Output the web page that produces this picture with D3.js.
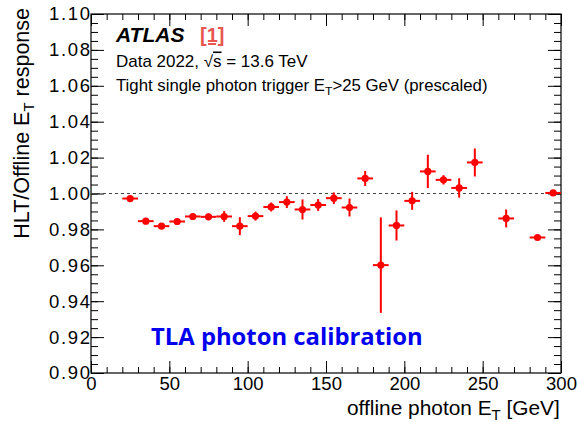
<!DOCTYPE html>
<html><head><meta charset="utf-8">
<script src="https://cdn.jsdelivr.net/npm/d3@7/dist/d3.min.js"></script>
<style>body{margin:0;background:#fff}svg{display:block}</style>
</head><body>
<svg id="chart" width="578" height="422"></svg>
<script>
// ---- data ----
const binCenters = [25,35,45,55,65,75,85,95,105,115,125,135,145,155,165,175,185,195,205,215,225,235,245,265,285,295];
const response   = [0.9972,0.9846,0.9818,0.9844,0.9872,0.9870,0.9872,0.9818,0.9874,0.9925,0.9952,0.9911,0.9936,0.9974,0.9922,1.0084,0.9601,0.9822,0.9959,1.0123,1.0076,1.0031,1.0173,0.9861,0.9755,1.0003];
const responseErr= [0.0010,0.0015,0.0015,0.0015,0.0015,0.0018,0.0030,0.0050,0.0025,0.0025,0.0033,0.0056,0.0033,0.0032,0.0050,0.0042,0.0266,0.0084,0.0050,0.0093,0.0026,0.0054,0.0078,0.0050,0.0012,0.0010];
const binHalfWidth = [5,5,5,5,5,5,5,5,5,5,5,5,5,5,5,5,5,5,5,5,5,5,5,5,5,5];
const xTickValues = [0,50,100,150,200,250,300];
const yTickValues = [0.90,0.92,0.94,0.96,0.98,1.00,1.02,1.04,1.06,1.08,1.10];

const svg = d3.select("#chart");
const L = 91, R = 561, T = 14, B = 373;
const x = d3.scaleLinear().domain([0,300]).range([L,R]);
const y = d3.scaleLinear().domain([0.90,1.10]).range([B,T]);
const font = "'Liberation Sans', Arial, sans-serif";

const xMinor = d3.range(0,301,10);
const yMinor = d3.range(0,41).map(i => +(0.90 + i*0.005).toFixed(3));

function styleAxis(g){
  g.select(".domain").remove();
  g.selectAll("line").attr("stroke","#000").attr("stroke-width",1);
  g.selectAll("text").attr("font-family",font).attr("fill","#000");
}
// bottom
svg.append("g").attr("transform",`translate(0,${B})`)
  .call(d3.axisBottom(x).tickValues(xMinor).tickSize(-6).tickFormat("")).call(styleAxis);
svg.append("g").attr("transform",`translate(0,${B})`)
  .call(d3.axisBottom(x).tickValues(xTickValues).tickSize(-12).tickPadding(17).tickFormat(d3.format("d")))
  .call(styleAxis).call(g=>g.selectAll("text").attr("font-size",18.5).attr("dy","0"));
// top
svg.append("g").attr("transform",`translate(0,${T})`)
  .call(d3.axisTop(x).tickValues(xMinor).tickSize(-6).tickFormat("")).call(styleAxis);
svg.append("g").attr("transform",`translate(0,${T})`)
  .call(d3.axisTop(x).tickValues(xTickValues).tickSize(-12).tickFormat("")).call(styleAxis);
// left
svg.append("g").attr("transform",`translate(${L},0)`)
  .call(d3.axisLeft(y).tickValues(yMinor).tickSize(-7).tickFormat("")).call(styleAxis);
svg.append("g").attr("transform",`translate(${L},0)`)
  .call(d3.axisLeft(y).tickValues(yTickValues).tickSize(-13).tickFormat(d3.format(".2f")))
  .call(styleAxis).call(g=>g.selectAll("text").attr("font-size",18.5).attr("x",-1)
     .attr("textLength",41).attr("lengthAdjust","spacing"));
// right
svg.append("g").attr("transform",`translate(${R},0)`)
  .call(d3.axisRight(y).tickValues(yMinor).tickSize(-7).tickFormat("")).call(styleAxis);
svg.append("g").attr("transform",`translate(${R},0)`)
  .call(d3.axisRight(y).tickValues(yTickValues).tickSize(-13).tickFormat("")).call(styleAxis);

// frame
svg.append("rect").attr("x",L).attr("y",T).attr("width",R-L).attr("height",B-T)
  .attr("fill","none").attr("stroke","#000").attr("stroke-width",1.2);

// reference line
svg.append("line").attr("x1",x(0)).attr("x2",x(300)).attr("y1",y(1)).attr("y2",y(1))
  .attr("stroke","#444").attr("stroke-width",1).attr("stroke-dasharray","3,3");

// data
const pts = binCenters.map((c,i)=>({c, v:response[i], e:responseErr[i], h:binHalfWidth[i]}));
const red = "#f00";
const g = svg.append("g");
g.selectAll("line.h").data(pts).join("line").attr("class","h")
  .attr("x1",d=>x(d.c-d.h)).attr("x2",d=>x(d.c+d.h)).attr("y1",d=>y(d.v)).attr("y2",d=>y(d.v))
  .attr("stroke",red).attr("stroke-width",2);
g.selectAll("line.v").data(pts).join("line").attr("class","v")
  .attr("x1",d=>x(d.c)).attr("x2",d=>x(d.c)).attr("y1",d=>y(d.v-d.e)).attr("y2",d=>y(d.v+d.e))
  .attr("stroke",red).attr("stroke-width",2);
g.selectAll("circle").data(pts).join("circle")
  .attr("cx",d=>x(d.c)).attr("cy",d=>y(d.v)).attr("r",3.6).attr("fill",red);

// helper: stretch a text horizontally to a target width, anchored at (x0, y0)
function fitWidth(sel, x0, y0, target){
  const w = sel.node().getBBox().width;
  sel.attr("x",0).attr("y",0).attr("transform",`translate(${x0},${y0}) scale(${target/w},1)`);
}

// axis titles
const yt = svg.append("text").attr("transform","translate(29,8) rotate(-90)")
  .attr("text-anchor","end").attr("font-family",font).attr("font-size",21.5).attr("fill","#000");
yt.append("tspan").text("HLT/Offline E");
yt.append("tspan").attr("font-size",15).attr("dy",5).text("T");
yt.append("tspan").attr("dy",-5).text(" response");

const xt = svg.append("text").attr("font-family",font).attr("font-size",21).attr("fill","#000");
xt.append("tspan").text("offline photon E");
xt.append("tspan").attr("font-size",15).attr("dy",5).text("T");
xt.append("tspan").attr("dy",-5).text(" [GeV]");
fitWidth(xt, 347, 415, 213);

// labels
svg.append("text").attr("x",116).attr("y",42).attr("font-family",font).attr("font-size",21)
  .attr("font-weight","bold").attr("font-style","italic").text("ATLAS");
svg.append("text").attr("x",200).attr("y",42).attr("font-family",font).attr("font-size",20)
  .attr("font-weight","bold").attr("fill","#e8564f").attr("text-decoration","underline").text("[1]");
const t2 = svg.append("text").attr("font-family",font).attr("font-size",16);
t2.append("tspan").text("Data 2022, √");
t2.append("tspan").attr("text-decoration","overline").text("s");
t2.append("tspan").text(" = 13.6 TeV");
fitWidth(t2, 116, 67, 192);
const t3 = svg.append("text").attr("font-family",font).attr("font-size",16);
t3.append("tspan").text("Tight single photon trigger E");
t3.append("tspan").attr("font-size",11.5).attr("dy",4).text("T");
t3.append("tspan").attr("dy",-4).text(">25 GeV (prescaled)");
fitWidth(t3, 116, 91, 372);

const tla = svg.append("text").attr("font-family","'Open Sans', Lato, sans-serif")
  .attr("font-size",23).attr("font-weight","bold").attr("fill","#0000ee").text("TLA photon calibration");
fitWidth(tla, 151, 345, 272);
</script>
</body></html>
